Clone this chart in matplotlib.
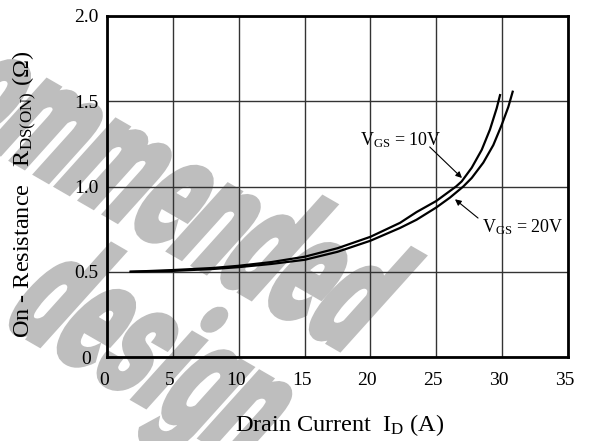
import numpy as np
import matplotlib
matplotlib.use("Agg")
import matplotlib.pyplot as plt
from matplotlib.textpath import TextPath
from matplotlib.patches import PathPatch
from matplotlib.font_manager import FontProperties
from matplotlib.transforms import Affine2D, ScaledTranslation

plt.rcParams['font.family'] = ['Liberation Serif', 'DejaVu Serif']
plt.rcParams['mathtext.fontset'] = 'custom'
plt.rcParams['mathtext.rm'] = 'Liberation Serif'
plt.rcParams['mathtext.it'] = 'Liberation Serif:italic'

i_d_10v = [1.8, 5, 8, 10, 12.5, 15, 17.5, 20, 22.25, 23.5, 25, 26.5, 26.93, 27.69, 28.45,
           29.08, 29.59, 29.84]
r_10v = [0.500, 0.510, 0.522, 0.535, 0.557, 0.588, 0.638, 0.705, 0.787, 0.850, 0.915,
         1.000, 1.030, 1.110, 1.215, 1.335, 1.460, 1.536]
i_d_20v = [1.8, 5, 8, 10, 12.5, 15, 17.5, 20, 22.25, 23.5, 25, 26.04, 27.05, 27.69, 28.57,
           29.33, 29.96, 30.47, 30.8]
r_20v = [0.500, 0.505, 0.516, 0.527, 0.546, 0.570, 0.617, 0.682, 0.757, 0.805, 0.877,
         0.935, 1.000, 1.050, 1.140, 1.243, 1.360, 1.467, 1.556]

x_ticks = [0, 5, 10, 15, 20, 25, 30, 35]
y_ticks = [0, 0.5, 1.0, 1.5, 2.0]
y_tick_labels = ["0", "0.5", "1.0", "1.5", "2.0"]

fig = plt.figure(figsize=(5.91, 4.41), dpi=100)
ax = fig.add_axes([107/591, 1 - 357/441, 461/591, 341/441])
ax.set_facecolor('none')

# grey watermark behind the plot
wm_font = FontProperties(family='Roboto', weight='black')
wm_grey = '#bebebe'


def watermark(word, x_right, y_base, size=165):
    path = TextPath((0, 0), word, size=size, prop=wm_font)
    x_end = path.get_extents().x1
    tr = (Affine2D().translate(-x_end, 0).scale(0.56, 1).skew_deg(12, 0)
          .rotate_deg(-30).translate(x_right, 441 - y_base))
    fig.add_artist(PathPatch(path, transform=tr, fc=wm_grey, ec=wm_grey, lw=3,
                             zorder=-1))


watermark("Recommended", 340, 350)
watermark("design", 238, 460)

ax.plot(i_d_10v, r_10v, color='black', lw=1.6, solid_joinstyle='round')
ax.plot(i_d_20v, r_20v, color='black', lw=1.6, solid_joinstyle='round')

ax.set_xlim(0, 35)
ax.set_ylim(0, 2.0)
ax.set_xticks(x_ticks)
ax.set_yticks(y_ticks)
ax.set_yticklabels(y_tick_labels)
ax.grid(True, color='#333333', lw=1.0)
ax.tick_params(length=0, labelsize=14)
ax.tick_params(axis='x', pad=11)
ax.tick_params(axis='y', pad=15)
for lab in ax.get_yticklabels():
    lab.set_ha('center')
shift = ScaledTranslation(-3/100, 0, fig.dpi_scale_trans)
for lab in ax.get_xticklabels():
    lab.set_transform(lab.get_transform() + shift)
for s in ax.spines.values():
    s.set_linewidth(2)

ax.set_xlabel(r'Drain Current  I$_{\mathrm{D}}$ (A)', fontsize=17.5)
ax.xaxis.set_label_coords(0.505, -0.2)
ax.xaxis.label.set_va('center')
ax.set_ylabel(r'On - Resistance   R$_{\mathrm{DS(ON)}}$ ($\Omega$)', fontsize=17.5)
ax.yaxis.set_label_coords(-0.178, 0.478)
ax.yaxis.label.set_va('center')

ax.text(19.2, 1.243, r'V$_{\mathrm{GS}}$ = 10V', fontsize=13)
ax.annotate('', xy=(26.95, 1.05), xytext=(24.5, 1.232),
            arrowprops=dict(arrowstyle='-|>', lw=0.8, color='black', mutation_scale=9,
                            shrinkA=0, shrinkB=0))
ax.text(28.5, 0.733, r'V$_{\mathrm{GS}}$ = 20V', fontsize=13)
ax.annotate('', xy=(26.42, 0.925), xytext=(28.17, 0.815),
            arrowprops=dict(arrowstyle='-|>', lw=0.8, color='black', mutation_scale=9,
                            shrinkA=0, shrinkB=0))

fig.savefig('out.png', dpi=100)
